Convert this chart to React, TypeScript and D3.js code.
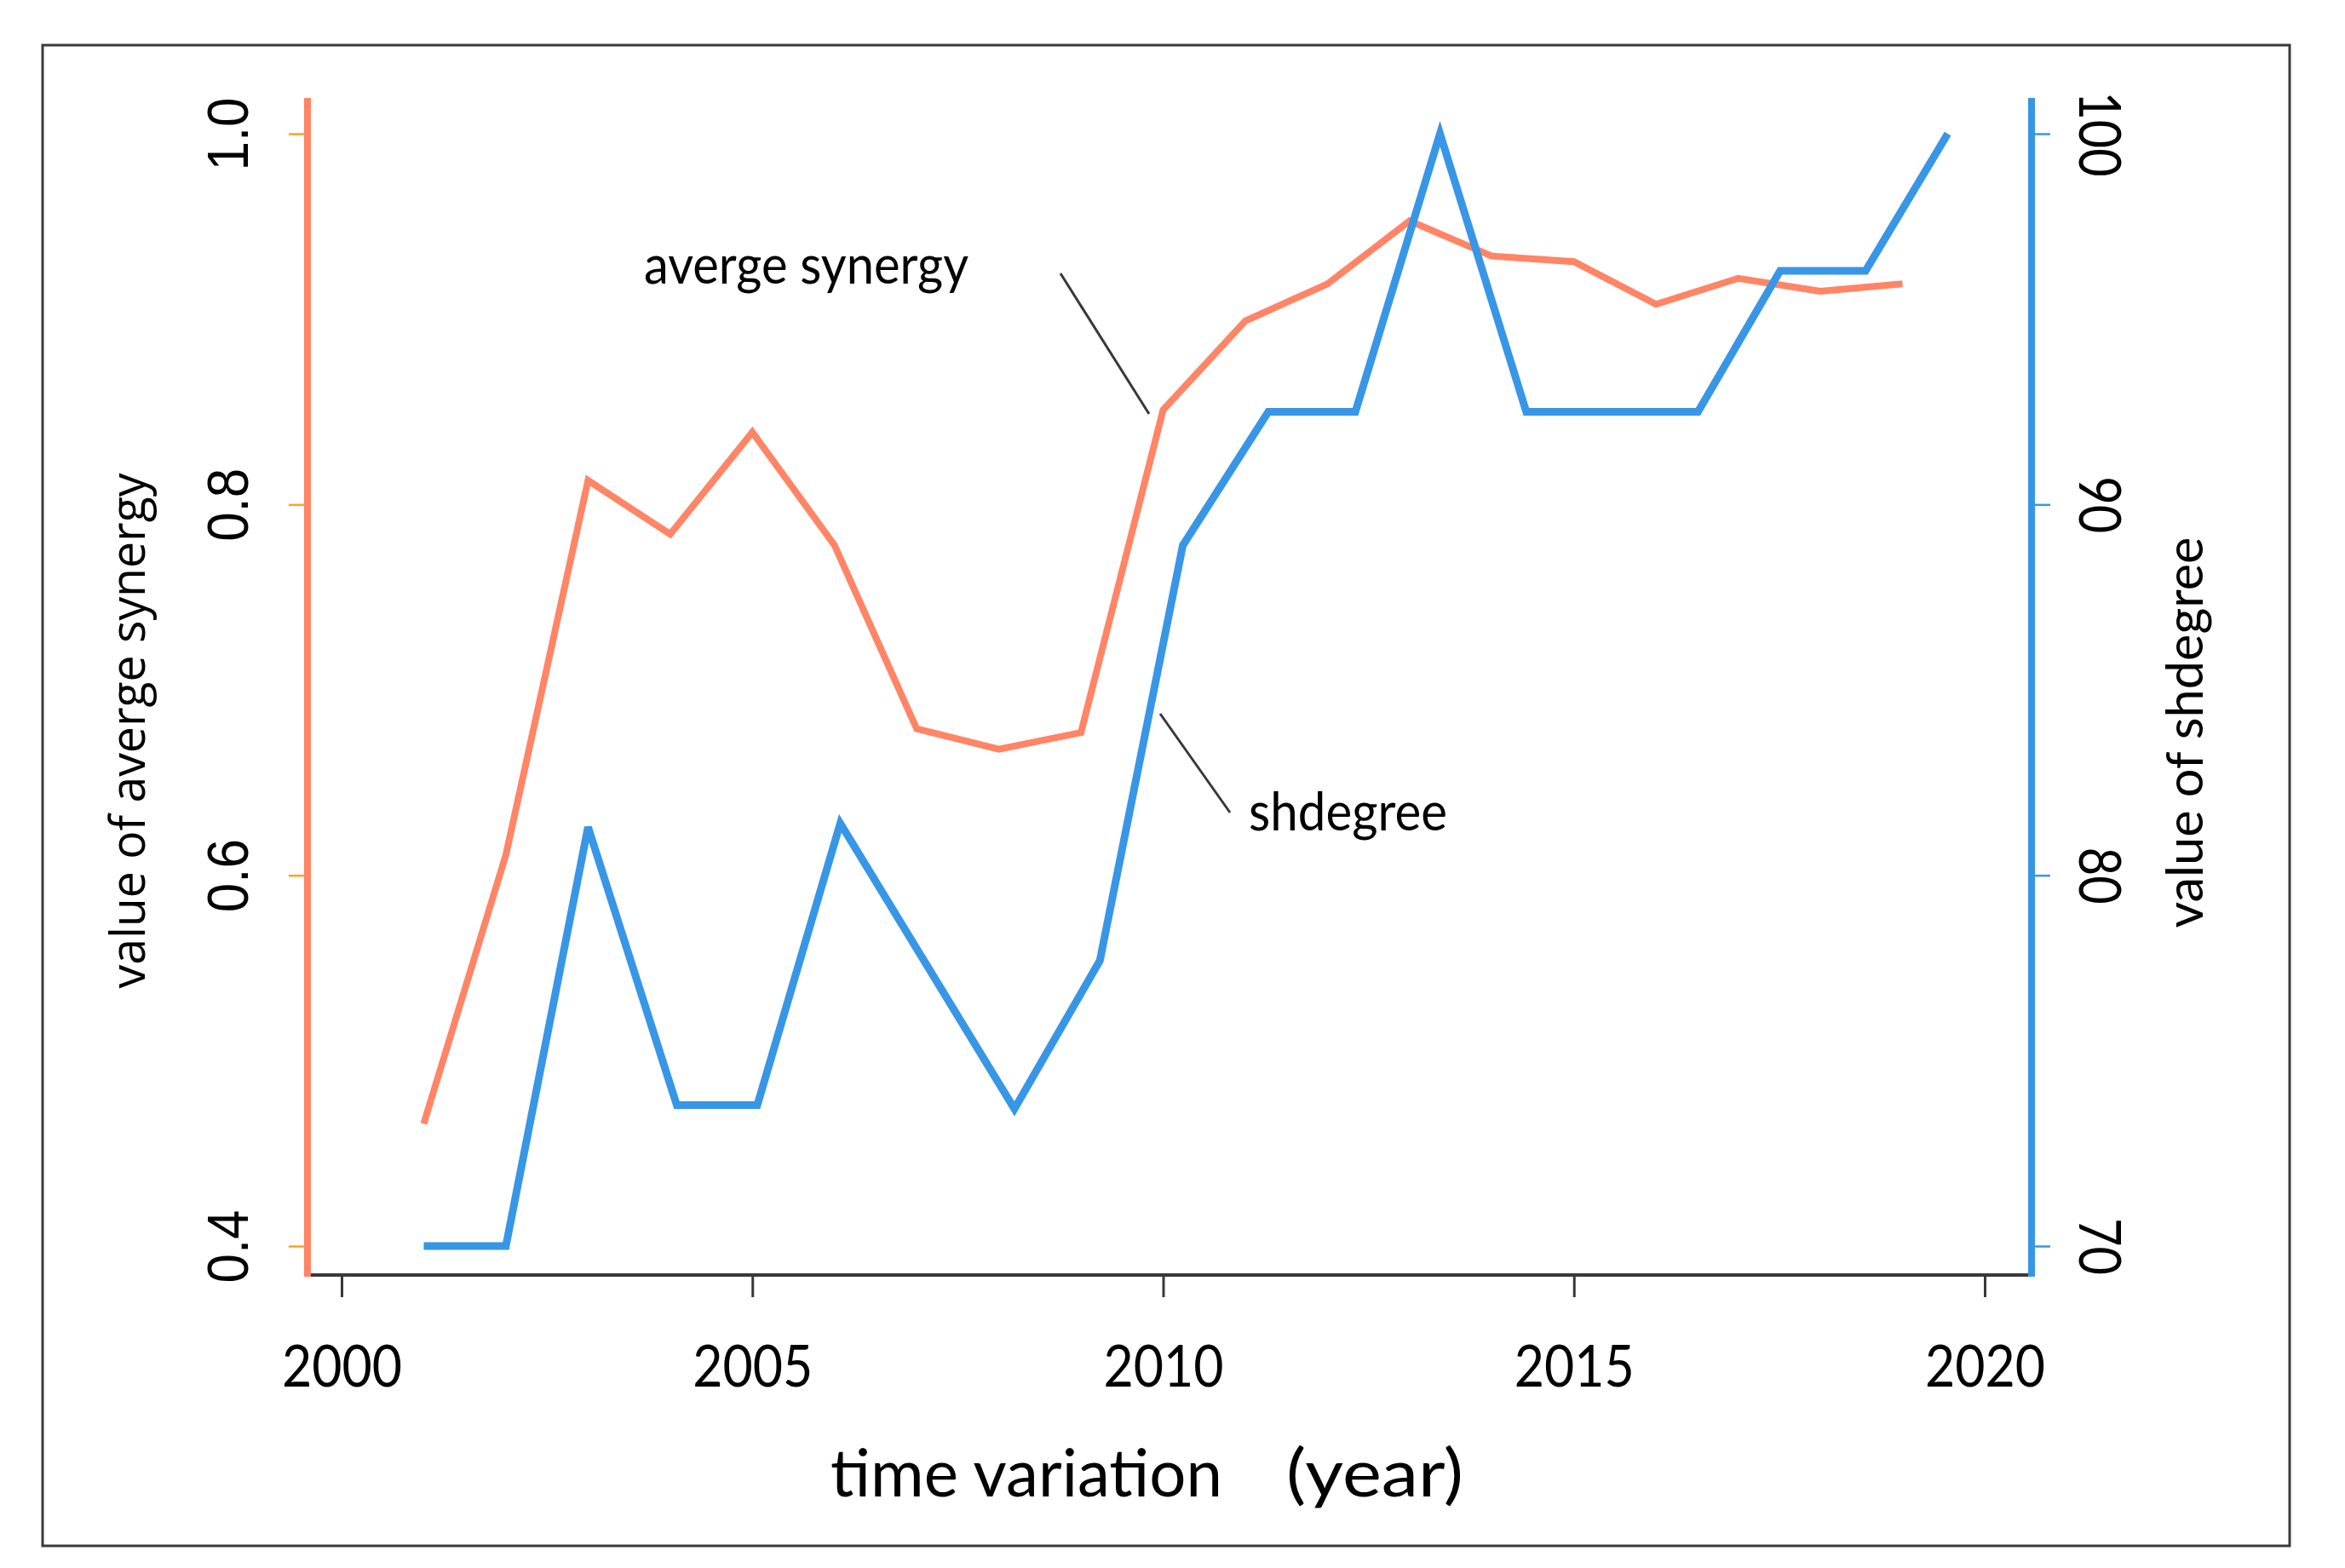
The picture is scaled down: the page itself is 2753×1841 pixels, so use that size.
import React, { useRef, useEffect } from 'react';
import * as d3 from 'd3';

// average synergy, one value per year
const synergyYears = [
  2001, 2002, 2003, 2004, 2005, 2006, 2007, 2008, 2009, 2010, 2011, 2012, 2013,
  2014, 2015, 2016, 2017, 2018, 2019,
];
const synergyValues = [
  0.466, 0.611, 0.813, 0.784, 0.839, 0.778, 0.679, 0.668, 0.677, 0.851, 0.899,
  0.919, 0.953, 0.934, 0.931, 0.908, 0.922, 0.915, 0.919,
];

// shdegree, vertices as they sit on the year axis
const degreeYears = [
  2001, 2002, 2003, 2004.08, 2005.06, 2006.07, 2008.19, 2009.23, 2010.24,
  2011.28, 2012.34, 2013.37, 2014.42, 2016.51, 2017.51, 2018.55, 2019.55,
];
const degreeValues = [
  70, 70, 81.3, 73.8, 73.8, 81.4, 73.7, 77.7, 88.9, 92.5, 92.5, 100, 92.5, 92.5,
  96.3, 96.3, 100,
];

const yearTicks = [2000, 2005, 2010, 2015, 2020];
const synergyTicks = [0.4, 0.6, 0.8, 1.0];
const degreeTicks = [70, 80, 90, 100];

const SALMON = '#FF8566';
const BLUE = '#3896E6';
const ORANGE = '#FFA21F';
const DARK = '#383838';

const arialLike = "'Liberation Sans', Arial, sans-serif";
const calibriLike = "Lato, 'Open Sans', sans-serif";
const openFont = "'Open Sans', 'Noto Sans', sans-serif";

const DualAxisChart = () => {
  const ref = useRef<SVGSVGElement | null>(null);

  const width = 2753;
  const height = 1841;

  useEffect(() => {
    if (!ref.current) return;

    const plot = { left: 361, right: 2385, top: 115, bottom: 1497 };

    const x = d3.scaleLinear().domain([2000, 2020]).range([401, 2330]);
    const yLeft = d3.scaleLinear().domain([0.4, 1.0]).range([1463, 157]);
    const yRight = d3.scaleLinear().domain([70, 100]).range([1463, 157]);

    const svg = d3.select(ref.current);
    svg.selectAll('*').remove();

    svg
      .append('rect')
      .attr('width', width)
      .attr('height', height)
      .attr('fill', '#fff');

    // outer frame
    svg
      .append('rect')
      .attr('x', 50)
      .attr('y', 53)
      .attr('width', 2638)
      .attr('height', 1762)
      .attr('fill', 'none')
      .attr('stroke', '#3a3a3a')
      .attr('stroke-width', 3);

    // bottom axis
    svg
      .append('line')
      .attr('x1', plot.left - 4)
      .attr('x2', plot.right + 4)
      .attr('y1', plot.bottom)
      .attr('y2', plot.bottom)
      .attr('stroke', DARK)
      .attr('stroke-width', 4);

    const xAxis = svg
      .append('g')
      .attr('transform', `translate(0,${plot.bottom})`)
      .call(
        d3
          .axisBottom(x)
          .tickValues(yearTicks)
          .tickSize(26)
          .tickFormat(d3.format('d'))
      );
    xAxis.select('.domain').remove();
    xAxis.selectAll('line').attr('stroke', DARK).attr('stroke-width', 3);
    xAxis
      .selectAll('text')
      .attr('y', 131)
      .attr('dy', 0)
      .attr('fill', '#000')
      .attr('textLength', 141)
      .attr('lengthAdjust', 'spacingAndGlyphs')
      .style('font-family', calibriLike)
      .style('font-size', '68px');

    // left axis (average synergy)
    svg
      .append('line')
      .attr('x1', plot.left)
      .attr('x2', plot.left)
      .attr('y1', plot.top)
      .attr('y2', plot.bottom + 2)
      .attr('stroke', SALMON)
      .attr('stroke-width', 8);

    const leftAxis = svg
      .append('g')
      .attr('transform', `translate(${plot.left - 4},0)`)
      .call(
        d3
          .axisLeft(yLeft)
          .tickValues(synergyTicks)
          .tickSize(18)
          .tickFormat(d3.format('.1f'))
      );
    leftAxis.select('.domain').remove();
    leftAxis.selectAll('line').attr('stroke', ORANGE).attr('stroke-width', 2.5);
    leftAxis
      .selectAll('text')
      .attr('x', 0)
      .attr('dy', 0)
      .attr('transform', 'translate(-66,0) rotate(-90)')
      .attr('text-anchor', 'middle')
      .attr('fill', '#000')
      .attr('textLength', 86)
      .attr('lengthAdjust', 'spacingAndGlyphs')
      .style('font-family', arialLike)
      .style('font-size', '68px');

    // right axis (shdegree)
    svg
      .append('line')
      .attr('x1', plot.right)
      .attr('x2', plot.right)
      .attr('y1', plot.top)
      .attr('y2', plot.bottom + 2)
      .attr('stroke', BLUE)
      .attr('stroke-width', 8);

    const rightAxis = svg
      .append('g')
      .attr('transform', `translate(${plot.right + 4},0)`)
      .call(
        d3
          .axisRight(yRight)
          .tickValues(degreeTicks)
          .tickSize(18)
          .tickFormat(d3.format('d'))
      );
    rightAxis.select('.domain').remove();
    rightAxis.selectAll('line').attr('stroke', BLUE).attr('stroke-width', 2.5);
    rightAxis
      .selectAll('text')
      .attr('x', 0)
      .attr('dy', 0)
      .attr('transform', 'translate(52,0) rotate(90)')
      .attr('text-anchor', 'middle')
      .attr('fill', '#000')
      .attr('textLength', (d: any) => (d >= 100 ? 100 : 67))
      .attr('lengthAdjust', 'spacingAndGlyphs')
      .style('font-family', calibriLike)
      .style('font-size', '67px');

    // series
    const synergyLine = d3
      .line<number>()
      .x((_, i) => x(synergyYears[i]))
      .y((d) => yLeft(d));

    const degreeLine = d3
      .line<number>()
      .x((_, i) => x(degreeYears[i]))
      .y((d) => yRight(d));

    svg
      .append('path')
      .datum(synergyValues)
      .attr('d', synergyLine)
      .attr('fill', 'none')
      .attr('stroke', SALMON)
      .attr('stroke-width', 8)
      .attr('stroke-linejoin', 'miter');

    svg
      .append('path')
      .datum(degreeValues)
      .attr('d', degreeLine)
      .attr('fill', 'none')
      .attr('stroke', BLUE)
      .attr('stroke-width', 9)
      .attr('stroke-linejoin', 'miter');

    // callouts
    svg
      .append('line')
      .attr('x1', 1245)
      .attr('y1', 321)
      .attr('x2', 1349)
      .attr('y2', 486)
      .attr('stroke', DARK)
      .attr('stroke-width', 3);

    svg
      .append('text')
      .attr('x', 756)
      .attr('y', 333)
      .attr('textLength', 381)
      .attr('lengthAdjust', 'spacingAndGlyphs')
      .style('font-family', calibriLike)
      .style('font-size', '62px')
      .text('averge synergy');

    svg
      .append('line')
      .attr('x1', 1362)
      .attr('y1', 838)
      .attr('x2', 1444)
      .attr('y2', 954)
      .attr('stroke', DARK)
      .attr('stroke-width', 3);

    svg
      .append('text')
      .attr('x', 1466)
      .attr('y', 975)
      .attr('textLength', 233)
      .attr('lengthAdjust', 'spacingAndGlyphs')
      .style('font-family', calibriLike)
      .style('font-size', '62px')
      .text('shdegree');

    // axis titles
    svg
      .append('text')
      .attr('transform', 'translate(170,858) rotate(-90)')
      .attr('text-anchor', 'middle')
      .attr('textLength', 605)
      .attr('lengthAdjust', 'spacingAndGlyphs')
      .style('font-family', openFont)
      .style('font-size', '56px')
      .text('value of averge synergy');

    svg
      .append('text')
      .attr('transform', 'translate(2586,860) rotate(-90)')
      .attr('text-anchor', 'middle')
      .attr('textLength', 459)
      .attr('lengthAdjust', 'spacingAndGlyphs')
      .style('font-family', calibriLike)
      .style('font-size', '60px')
      .text('value of shdegree');

    const xTitle = svg
      .append('text')
      .attr('y', 1757)
      .style('font-family', calibriLike)
      .style('font-size', '78px');
    xTitle
      .append('tspan')
      .attr('x', 975)
      .attr('textLength', 460)
      .attr('lengthAdjust', 'spacingAndGlyphs')
      .text('time variation');
    xTitle.append('tspan').text('\u3000');
    xTitle
      .append('tspan')
      .attr('x', 1510)
      .attr('textLength', 208)
      .attr('lengthAdjust', 'spacingAndGlyphs')
      .text('(year)');
  });

  return (
    <svg
      ref={ref}
      width={width}
      height={height}
      viewBox={`0 0 ${width} ${height}`}
      style={{ position: 'absolute', left: 0, top: 0, display: 'block' }}
    />
  );
};

export default function App() {
  return <DualAxisChart />;
}
